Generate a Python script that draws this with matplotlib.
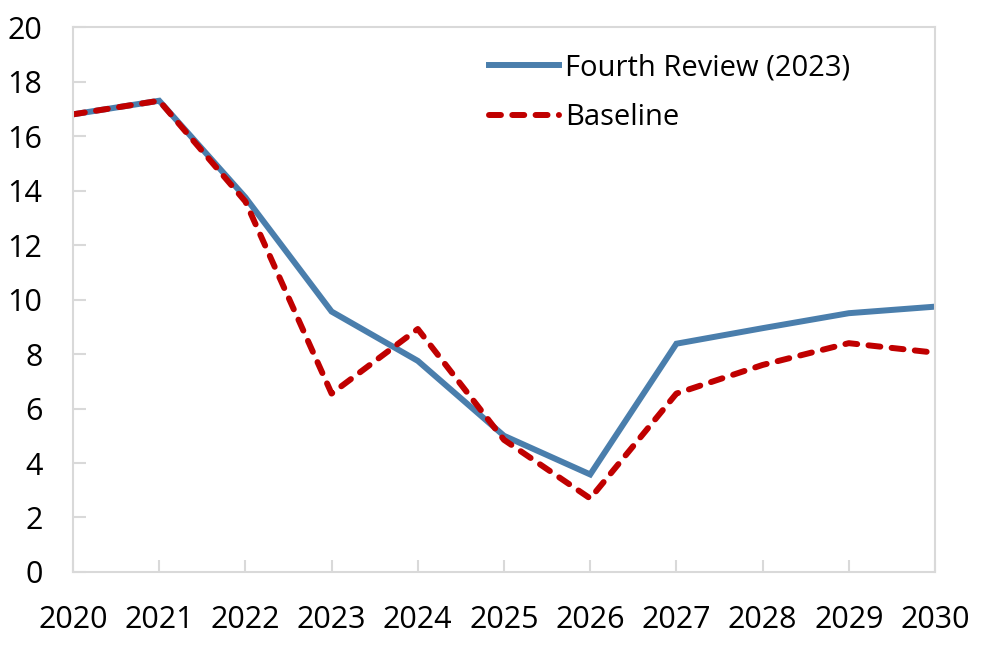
import matplotlib
matplotlib.use("Agg")
import matplotlib.pyplot as plt

plt.rcParams["font.family"] = ["Open Sans", "DejaVu Sans"]

years = [2020, 2021, 2022, 2023, 2024, 2025, 2026, 2027, 2028, 2029, 2030]
fourth_review = [16.8, 17.3, 13.75, 9.56, 7.75, 5.0, 3.58, 8.38, 8.95, 9.5, 9.74]
baseline = [16.8, 17.3, 13.6, 6.55, 8.92, 4.85, 2.7, 6.55, 7.6, 8.4, 8.05]

y_ticks = [0, 2, 4, 6, 8, 10, 12, 14, 16, 18, 20]

GRAY = "#D9D9D9"

fig = plt.figure(figsize=(10, 6.63), dpi=100)
ax = fig.add_axes([0.073, 0.1373, 0.862, 0.8217])

ax.plot(years, fourth_review, color="#4A7EAC", linewidth=4.3,
        solid_joinstyle="miter", label="Fourth Review (2023)")
ax.plot(years, baseline, color="#C00000", linewidth=4.3,
        linestyle=(0, (2.0, 1.9)), dash_capstyle="round",
        label="Baseline")

ax.set_xlim(2020, 2030)
ax.set_ylim(0, 20)
ax.set_xticks(years)
ax.set_yticks(y_ticks)

for spine in ax.spines.values():
    spine.set_color(GRAY)
    spine.set_linewidth(1.5)

ax.tick_params(axis="both", direction="in", length=9, width=1.5,
               color=GRAY, labelsize=22, labelcolor="black")
ax.tick_params(axis="y", pad=22)
ax.tick_params(axis="x", pad=24)

ax.legend(loc="upper left", bbox_to_anchor=(0.452, 1.0), frameon=False,
          fontsize=21, handlelength=2.4, handletextpad=0.2,
          labelspacing=0.72)

fig.savefig("out.png", dpi=100)
